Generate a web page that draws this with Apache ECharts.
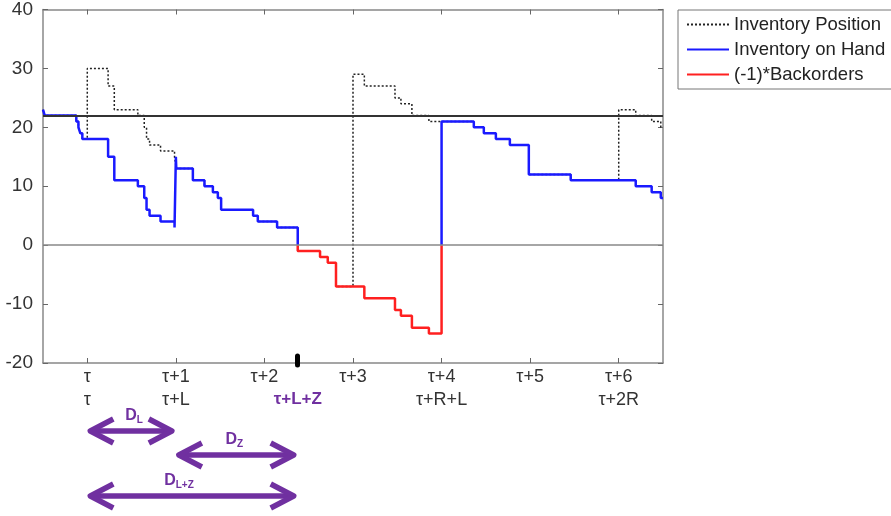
<!DOCTYPE html>
<html>
<head>
<meta charset="utf-8">
<script src="https://cdn.jsdelivr.net/npm/echarts@6/dist/echarts.min.js"></script>
<style>
body{margin:0;background:#fff;}
#main{width:891px;height:516px;}
</style>
</head>
<body>
<div id="main"></div>
<script>
// periods after tau on the x axis, stock level on the y axis
var reorderLevel = 22;
var tickPos = [0, 1, 2, 3, 4, 5, 6];
var tickTop = ['τ', 'τ+1', 'τ+2', 'τ+3', 'τ+4', 'τ+5', 'τ+6'];
var tickSub = ['τ', 'τ+L', '', '', 'τ+R+L', '', 'τ+2R'];
var markPos = [2.376];
var markText = ['τ+L+Z'];

// [time, level] at every change
var invPosition = [[-0.5,23],[-0.48,22],[-0.124,21],[-0.1,20],[-0.079,19],[-0.056,18],[0,30],[0.235,27],[0.305,23],
	[0.571,22],[0.643,20],[0.669,18],[0.703,17],[0.827,16],[0.985,15],[1.005,13],[1.192,11],[1.323,10],[1.418,9],
	[1.474,8],[1.511,6],[1.872,5],[1.925,4],[2.143,3],[2.376,-1],[2.628,-2],[2.715,-3],[2.808,-7],[3.0,29],[3.128,27],
	[3.474,25],[3.541,24],[3.665,22],[3.857,21],[4.364,20],[4.477,19],[4.613,18],[4.771,17],[4.985,12],[5.458,11],
	[6.0,23],[6.192,22],[6.372,21],[6.475,20],[6.5,20]];
var onHand = [[-0.5,23],[-0.48,22],[-0.124,21],[-0.1,20],[-0.079,19],[-0.056,18],[0.235,15],[0.305,11],[0.571,10],
	[0.643,8],[0.669,6],[0.703,5],[0.827,4],[0.985,3],[1.0,15],[1.005,13],[1.192,11],[1.323,10],[1.418,9],[1.474,8],
	[1.511,6],[1.872,5],[1.925,4],[2.143,3],[2.376,0],[2.376,'-'],[4.0,0],[4.0,21],[4.364,20],[4.477,19],[4.613,18],
	[4.771,17],[4.985,12],[5.458,11],[6.192,10],[6.372,9],[6.475,8],[6.5,8]];
var backorders = [[2.376,0],[2.376,-1],[2.628,-2],[2.715,-3],[2.808,-7],[3.128,-9],[3.474,-11],[3.541,-12],
	[3.665,-14],[3.857,-15],[4.0,0]];

// demand spans below the axis
var spanFrom = [0, 1, 0];
var spanTo = [1, 2.376, 2.376];
var spanSub = ['L', 'Z', 'L+Z'];

var purple = '#7030A0';
var font = '"Liberation Sans", Arial, sans-serif';
var arrowRows = [68, 92, 133];   // px below the axis
var labelShift = [3, -2, -13];

var myChart = echarts.init(document.getElementById('main'));

var spans = [];
for (var i = 0; i < spanFrom.length; i++) {
	spans.push([spanFrom[i], spanTo[i]]);
}

function renderArrow(params, api) {
	var i = params.dataIndex;
	var a = api.coord([api.value(0), -20]);
	var b = api.coord([api.value(1), -20]);
	var y = a[1] + arrowRows[i];
	var x1 = a[0] + 3, x2 = b[0] - 4;
	var st = {stroke: purple, lineWidth: 5.5, fill: null, lineJoin: 'round', lineCap: 'butt'};
	return {
		type: 'group',
		children: [
			{type: 'line', shape: {x1: x1, y1: y, x2: x2, y2: y}, style: st},
			{type: 'polyline', shape: {points: [[x1 + 23, y - 12], [x1, y], [x1 + 23, y + 12]]}, style: st},
			{type: 'polyline', shape: {points: [[x2 - 23, y - 12], [x2, y], [x2 - 23, y + 12]]}, style: st},
			{
				type: 'text', x: (x1 + x2) / 2 + labelShift[i], y: y - 15,
				style: {
					text: '{d|D}{s|' + spanSub[i] + '}',
					align: 'center', verticalAlign: 'middle',
					rich: {
						d: {fontSize: 16, fontWeight: 'bold', fill: purple, fontFamily: font, lineHeight: 18},
						s: {fontSize: 10, fontWeight: 'bold', fill: purple, fontFamily: font, lineHeight: 18, verticalAlign: 'bottom'}
					}
				}
			}
		]
	};
}

var option = {
	animation: false,
	backgroundColor: '#fff',
	grid: {left: 43, right: 228, top: 9.5, bottom: 153},
	legend: {
		orient: 'vertical', left: 678, top: 10,
		padding: [5, 8, 5, 8], itemGap: 6, itemWidth: 42, itemHeight: 14,
		borderColor: '#777', borderWidth: 1, selectedMode: false,
		itemStyle: {opacity: 0},
		textStyle: {fontSize: 18.5, color: '#222', fontFamily: font},
		data: ['Inventory Position', 'Inventory on Hand', '(-1)*Backorders']
	},
	xAxis: [{
		type: 'value', min: -0.5, max: 6.5, position: 'bottom',
		axisLine: {onZero: false, lineStyle: {color: '#888', width: 1.5}},
		axisTick: {inside: true, length: 5, customValues: tickPos, lineStyle: {color: '#666'}},
		axisLabel: {
			customValues: tickPos, fontSize: 18, lineHeight: 23, margin: 3, color: '#333', fontFamily: font,
			formatter: function (v) {
				var k = Math.round(v);
				return tickSub[k] ? tickTop[k] + '\n' + tickSub[k] : tickTop[k];
			}
		},
		splitLine: {show: false}
	}, {
		type: 'value', min: -0.5, max: 6.5, position: 'top',
		axisLine: {onZero: false, lineStyle: {color: '#888', width: 1.5}},
		axisTick: {inside: true, length: 5, customValues: tickPos, lineStyle: {color: '#666'}},
		axisLabel: {show: false},
		splitLine: {show: false}
	}, {
		type: 'value', min: -0.5, max: 6.5, position: 'bottom', offset: -7,
		axisLine: {show: false, onZero: false},
		axisTick: {inside: false, length: 9, customValues: markPos, lineStyle: {color: '#000', width: 5, cap: 'round'}},
		axisLabel: {
			customValues: markPos, margin: 32, fontSize: 17, lineHeight: 23, fontWeight: 'bold', color: purple, fontFamily: font,
			formatter: function (v) { return markText[0]; }
		},
		splitLine: {show: false}
	}],
	yAxis: [{
		type: 'value', min: -20, max: 40, interval: 10,
		axisLine: {show: true, onZero: false, lineStyle: {color: '#888', width: 1.5}},
		axisTick: {show: true, inside: true, length: 5, lineStyle: {color: '#666'}},
		axisLabel: {fontSize: 19, margin: 10, color: '#333', fontFamily: font},
		splitLine: {show: false}
	}, {
		type: 'value', min: -20, max: 40, interval: 10, position: 'right',
		axisLine: {show: true, onZero: false, lineStyle: {color: '#888', width: 1.5}},
		axisTick: {show: true, inside: true, length: 5, lineStyle: {color: '#666'}},
		axisLabel: {show: false},
		splitLine: {show: false}
	}],
	series: [{
		name: 'Inventory Position',
		type: 'line', step: 'end', symbol: 'none', z: 2,
		lineStyle: {color: '#222', width: 1.5, type: [2, 2]},
		itemStyle: {color: '#222'},
		data: invPosition,
		markLine: {
			silent: true, symbol: ['none', 'none'], label: {show: false},
			data: [
				{yAxis: reorderLevel, lineStyle: {color: '#333', width: 2, type: 'solid'}},
				{yAxis: 0, lineStyle: {color: '#888', width: 1.5, type: 'solid'}}
			]
		}
	}, {
		name: 'Inventory on Hand',
		type: 'line', step: 'end', symbol: 'none', z: 3,
		lineStyle: {color: '#1a1aff', width: 2.5},
		itemStyle: {color: '#1a1aff'},
		data: onHand
	}, {
		name: '(-1)*Backorders',
		type: 'line', step: 'end', symbol: 'none', z: 4,
		lineStyle: {color: '#ff2020', width: 2.5},
		itemStyle: {color: '#ff2020'},
		data: backorders
	}, {
		name: 'spans',
		type: 'custom', clip: false, silent: true, z: 5,
		renderItem: renderArrow,
		data: spans
	}]
};
myChart.setOption(option);
</script>
</body>
</html>
